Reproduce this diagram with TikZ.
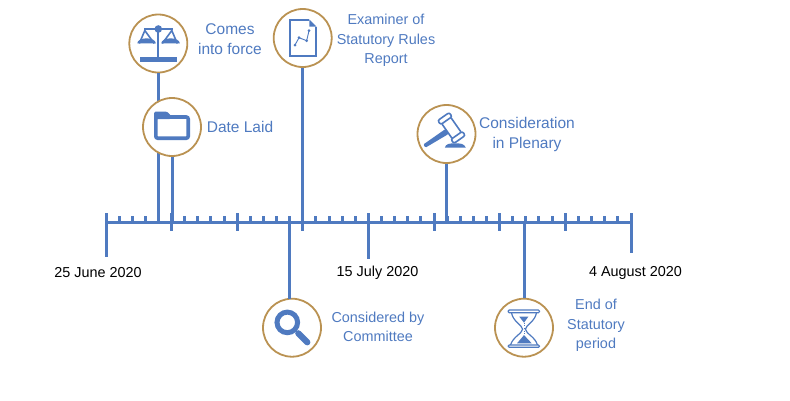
\documentclass[tikz,border=0pt]{standalone}
\usepackage{fontspec}
\setmainfont{Liberation Sans}
\usepackage{xcolor}
\usetikzlibrary{positioning,calc}
\definecolor{lineblue}{RGB}{79,122,192}
\definecolor{ringtan}{RGB}{186,146,82}
\tikzset{
  milestone/.style={circle, draw=ringtan, fill=white, line width=1.8pt, minimum size=58pt,
                    inner sep=0pt},
  stem/.style={draw=lineblue, line width=3pt},
  major/.style={draw=lineblue, line width=3pt},
  minor/.style={draw=lineblue, line width=3pt},
  lbl/.style={align=center, text=lineblue, font=\fontsize{15.5}{20}\selectfont},
  smalllbl/.style={lbl, font=\fontsize{14.4}{19.3}\selectfont},
  datelbl/.style={text=black, font=\fontsize{14.4}{17}\selectfont},
  icon/.style={draw=lineblue, line width=1.6pt},
  iconfill/.style={fill=lineblue}
}
\begin{document}
\begin{tikzpicture}[x=1pt, y=-1pt]
  \useasboundingbox (0,0) rectangle (790,400);
  % axis and its ticks
  \coordinate (axisstart) at (106,222);
  \coordinate (axisend) at (631,222);
  \foreach \i in {0,...,7} {
    \foreach \j in {1,...,4} {
      \coordinate (tick) at ($(axisstart)+(65.6*\i+13.1*\j,0)$);
      \draw[minor] (tick) -- ++(0,-6.5);
    }
  }
  \foreach \i in {1,2,3,5,6,7} {
    \coordinate (tick) at ($(axisstart)+(65.6*\i,0)$);
    \draw[major] (tick) ++(0,-9) -- ++(0,18);
  }
  \coordinate (tick) at ($(axisstart)+(262.4,0)$);
  \draw[major] (tick) ++(0,-9) -- ++(0,46);
  \draw[major] (axisstart) ++(0,-9) -- ++(0,44);
  \draw[major] (axisend) ++(0,-9) -- ++(0,40);
  \draw[stem] (axisstart) -- (axisend);

  % milestones above the axis
  \node[milestone] (comes) at (158.3,43.5) {};
  \draw[stem] (comes.south) -- (comes |- axisstart);
  \node[milestone] (laid) at (172,127) {};
  \draw[stem] (laid.south) -- (laid |- axisstart);
  \node[milestone] (report) at (302.7,38) {};
  \draw[stem] (report.south) -- (report |- axisstart);
  \node[milestone] (plenary) at (446.5,134) {};
  \draw[stem] (plenary.south) -- (plenary |- axisstart);

  % milestones below the axis
  \node[milestone] (committee) at (292,327.7) {};
  \coordinate (committeetop) at (289.3,299);
  \draw[stem] (committeetop) -- (committeetop |- axisstart);
  \node[milestone] (period) at (524,327.7) {};
  \draw[stem] (period.north) -- (period |- axisstart);

  % scales
  \begin{scope}[shift={(comes)}]
    \draw[icon, line width=2.2pt] (-14,-14.5) -- (15,-14.5);
    \fill[iconfill] (0,-14.5) circle (3.8);
    \draw[icon, line width=2.2pt] (0,-14) -- (0,14);
    \fill[iconfill] (-18.5,13) rectangle (18.5,18);
    \draw[icon] (-19,0) -- (-13.5,-13) -- (-4,0);
    \draw[icon] (4,0) -- (13.5,-13) -- (19,0);
    \fill[iconfill] (-21,-0.2) -- (-2.5,-0.2) arc (0:-180:9.25 and 5) -- cycle;
    \fill[iconfill] (3,-0.2) -- (21.5,-0.2) arc (0:-180:9.25 and 5) -- cycle;
  \end{scope}

  % folder
  \begin{scope}[shift={(laid)}]
    \draw[icon, line width=3.6pt, rounded corners=2pt] (-16.2,-10) rectangle (16.2,11.2);
    \fill[iconfill, rounded corners=1.5pt] (-18,-8) -- (-18,-15.5) -- (-5,-15.5) -- (-1,-11.5) -- (-1,-8) -- cycle;
  \end{scope}

  % report
  \begin{scope}[shift={(report)}]
    \draw[icon, line width=1.8pt] (6.6,-18) -- (-12.6,-18) -- (-12.6,18) -- (13.2,18) -- (13.2,-11.3);
    \fill[iconfill] (6.6,-18.7) -- (14,-11.3) -- (6.6,-11.3) -- cycle;
    \draw[icon, line width=0.9pt] (-7.7,7) -- (-3.7,-0.3) -- (4,2.7) -- (6.3,-7.3);
    \foreach \pt in {(-7.7,7),(-3.7,-0.3),(4,2.7),(6.3,-7.3)} {
      \fill[iconfill] \pt circle (1.5);
    }
  \end{scope}

  % gavel
  \begin{scope}[shift={(plenary)}]
    \fill[iconfill, rounded corners=1pt] (-23.2,10.5) -- (-1,-5) -- (2,0) -- (-21,13.6) -- cycle;
    \begin{scope}[shift={(5,-6)}, rotate=-55]
      \draw[icon, fill=white, rounded corners=2pt] (-10,-5.5) rectangle (10,5.5);
      \draw[icon, fill=white, rounded corners=2pt] (-14,-7) rectangle (-9,7);
      \draw[icon, fill=white, rounded corners=2pt] (9,-7) rectangle (14,7);
    \end{scope}
    \fill[iconfill] (-1.7,13.7) -- (19.3,13.7) .. controls (18,9.5) and (13,9.3) .. (9,9.3) .. controls (4,9.3) and (-1,9.5) .. (-1.7,13.7) -- cycle;
  \end{scope}

  % magnifier
  \begin{scope}[shift={(committee)}]
    \draw[icon, line width=5pt] (-4.7,-5.3) circle (10.3);
    \draw[icon, line width=6.2pt, line cap=round] (6.3,5.6) -- (15.3,14.6);
  \end{scope}

  % hourglass
  \begin{scope}[shift={(period)}]
    \draw[icon, line width=1.2pt, rounded corners=1pt] (-15.7,-17.7) rectangle (15.4,-15);
    \draw[icon, line width=1.2pt, rounded corners=1pt] (-15.7,17.3) rectangle (15.4,19.6);
    \draw[icon, line width=1.2pt] (-12.5,-15) .. controls (-11,-6) and (-2,-3) .. (-1.4,1.5) .. controls (-2,6) and (-11,9) .. (-13.5,17.3);
    \draw[icon, line width=1.2pt] (12.5,-15) .. controls (11,-6) and (2,-3) .. (1.4,1.5) .. controls (2,6) and (11,9) .. (13.5,17.3);
    \fill[iconfill] (-4.7,-11) -- (4.3,-11) -- (0,-5) -- cycle;
    \fill[iconfill] (-7,15.6) -- (7.7,15.6) -- (0,7.4) -- cycle;
    \draw[icon, line width=0.6pt, dotted] (0,-5) -- (0,7.4);
  \end{scope}

  % labels
  \node[lbl] (comeslbl) at (230,39.5) {Comes\\into force};
  \node[lbl] (laidlbl) at (240,126.5) {Date Laid};
  \node[smalllbl] (reportlbl) at (386,40.5) {Examiner of\\Statutory Rules\\Report};
  \node[lbl] (plenarylbl) at (527,134) {Consideration\\in Plenary};
  \node[smalllbl] (committeelbl) at (378,326.5) {Considered by\\Committee};
  \node[smalllbl] (periodlbl) at (596,325.5) {End of\\Statutory\\period};
  \node[datelbl] (startlbl) at (98,273) {25 June 2020};
  \node[datelbl] (midlbl) at (377.5,273) {15 July 2020};
  \node[datelbl] (endlbl) at (635.5,273) {4 August 2020};
\end{tikzpicture}
\end{document}
